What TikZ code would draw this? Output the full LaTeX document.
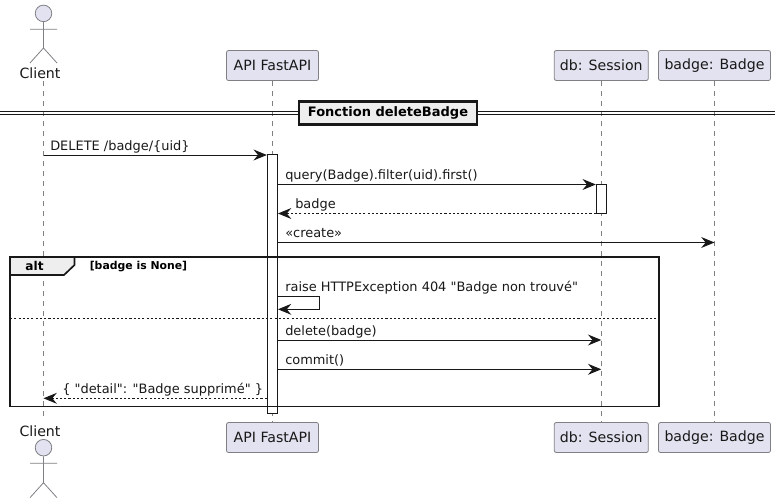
\documentclass[tikz,border=0pt]{standalone}
\usepackage{fontspec}
\setmainfont[Ligatures=TeXOff]{DejaVu Sans}
\usetikzlibrary{arrows.meta,positioning,calc}
\definecolor{SeqFill}{HTML}{E2E2F0}
\definecolor{SeqEdge}{HTML}{7F7F84}
\definecolor{SeqLine}{HTML}{181818}
\definecolor{SeqTab}{HTML}{EEEEEE}
\tikzset{
  partbox/.style={draw=SeqEdge,fill=SeqFill,rounded corners=1.5pt,line width=0.6pt,minimum height=22.5pt,inner sep=0pt,font=\fontsize{10.6}{12}\selectfont,text=SeqLine},
  headcirc/.style={circle,draw=SeqEdge,fill=SeqFill,line width=0.6pt,minimum size=12.4pt,inner sep=0pt},
  actorline/.style={draw=SeqEdge,line width=0.6pt},
  lifeline/.style={draw=SeqEdge,line width=0.6pt,dash pattern=on 3.75pt off 3.75pt},
  actbar/.style={draw=SeqLine,fill=white,line width=0.75pt,minimum width=7.6pt,inner sep=0pt},
  msgarrow/.style={-{Stealth[length=10pt,width=8.2pt,inset=3.4pt]},line width=0.75pt,draw=SeqLine},
  backarrow/.style={msgarrow,dash pattern=on 1.6pt off 1.6pt},
  msgtext/.style={anchor=base west,inner sep=0pt,font=\fontsize{9.7}{11}\selectfont,text=SeqLine},
  actortext/.style={inner sep=0pt,font=\fontsize{10.6}{12}\selectfont,text=SeqLine},
  framebox/.style={draw=SeqLine,line width=1.25pt},
  sepline/.style={draw=SeqLine,line width=0.75pt},
  boldtext/.style={inner sep=0pt,font=\bfseries\fontsize{9.1}{11}\selectfont,text=black}
}
\begin{document}
\begin{tikzpicture}[x=0.75pt,y=-0.75pt]
  \useasboundingbox (0,0) rectangle (781,503);

  % participants
  \node[partbox,minimum width=69pt] (api) at (272.5,65.5) {API FastAPI};
  \node[partbox,minimum width=70.5pt] (db) at (601.3,65.5) {db: Session};
  \node[partbox,minimum width=84pt] (badge) at (714.5,65.5) {badge: Badge};
  \node[partbox,minimum width=69pt] (apib) at (272.5,437.5) {API FastAPI};
  \node[partbox,minimum width=70.5pt] (dbb) at (601.3,437.5) {db: Session};
  \node[partbox,minimum width=84pt] (badgeb) at (714.5,437.5) {badge: Badge};

  % actors
  \node[headcirc] (head) at (43.5,13.4) {};
  \node[actortext] (client) at (40,73) {Client};
  \coordinate (hip) at (43.5,48);
  \draw[actorline] (head.south) -- (hip) -- (30,63) (hip) -- (57,63) (30,29.3) -- (57,29.3);
  \node[actortext] (clientb) at (40,431) {Client};
  \node[headcirc] (headb) at (43.5,447.7) {};
  \coordinate (hipb) at (43.5,482.7);
  \draw[actorline] (headb.south) -- (hipb) -- (30,497.7) (hipb) -- (57,497.7) (30,463.3) -- (57,463.3);

  % lifelines
  \coordinate (ltop) at (43.5,81);
  \coordinate (lbot) at (43.5,421);
  \draw[lifeline] (ltop) -- (lbot);
  \draw[lifeline] (api.south) -- (apib.north);
  \draw[lifeline] (db.south) -- (dbb.north);
  \draw[lifeline] (badge.south) -- (badgeb.north);

  % divider
  \coordinate (dl) at (0,111.5);
  \coordinate (dr) at (775,111.5);
  \coordinate (el) at (0,114.5);
  \coordinate (er) at (775,114.5);
  \draw[sepline] (dl) -- (dr) (el) -- (er);
  \node[draw=SeqLine,fill=SeqTab,line width=1.6pt,minimum width=134pt,minimum height=17.2pt,inner sep=0pt,font=\bfseries\fontsize{9.75}{11}\selectfont] (fn) at (388,113) {Fonction deleteBadge\hspace{7pt}};

  % activations
  \node[actbar,minimum height=194pt] (apibar) at (272.4,284.3) {};
  \node[actbar,minimum height=21.7pt] (dbbar) at (601.4,198.8) {};

  % alt frame
  \draw[framebox,fill=SeqTab] (10,257) -- (74.5,257) -- (74.5,265) -- (64,275) -- (10,275) -- cycle;
  \node[boldtext] (alt) at (34.5,266) {alt};
  \node[inner sep=0pt,font=\bfseries\fontsize{8.15}{9}\selectfont,anchor=base west,text=black] (cond) at (89.5,269.5) {[badge is None]};
  \draw[framebox] (10,257) rectangle (659,406.5);
  \draw[sepline,dash pattern=on 1.6pt off 1.6pt] (10,318.4) -- (659,318.4);

  % messages
  \coordinate (m1) at (0,155);
  \coordinate (m2) at (0,184.5);
  \coordinate (m3) at (0,213.5);
  \coordinate (m4) at (0,242.5);
  \coordinate (m5) at (319.5,296.7);
  \coordinate (m6) at (319.5,309.3);
  \coordinate (m7) at (0,340);
  \coordinate (m8) at (0,369.3);
  \coordinate (m9) at (0,398.3);

  \draw[msgarrow] (head |- m1) -- (apibar.north west |- m1);
  \node[msgtext] (t1) at (50,150) {DELETE /badge/\{uid\}};
  \draw[msgarrow] (apibar.east |- m2) -- (dbbar.north west |- m2);
  \node[msgtext] (t2) at (285,179.5) {query(Badge).filter(uid).first()};
  \draw[backarrow] (dbbar.south west |- m3) -- (apibar.east |- m3);
  \node[msgtext] (t3) at (295,208.5) {badge};
  \draw[msgarrow] (apibar.east |- m4) -- (badge.south |- m4);
  \node[msgtext] (t4) at (285,237.5) {«create»};
  \draw[msgarrow] (apibar.east |- m5) -- (m5) -- (m6) -- (apibar.east |- m6);
  \node[msgtext] (t5) at (285,291.5) {raise HTTPException 404 "Badge non trouvé"};
  \draw[msgarrow] (apibar.east |- m7) -- (db.south |- m7);
  \node[msgtext] (t6) at (285,335) {delete(badge)};
  \draw[msgarrow] (apibar.east |- m8) -- (db.south |- m8);
  \node[msgtext] (t7) at (285,364.3) {commit()};
  \draw[backarrow] (apibar.west |- m9) -- (head |- m9);
  \node[msgtext] (t8) at (62,393.3) {\{ "detail": "Badge supprimé" \}};
\end{tikzpicture}
\end{document}
